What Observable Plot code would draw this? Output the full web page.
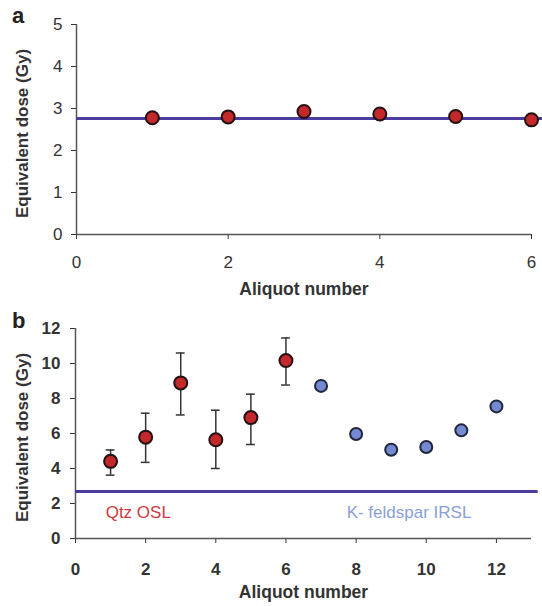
<!DOCTYPE html>
<html>
<head>
<meta charset="utf-8">
<script src="https://cdn.jsdelivr.net/npm/d3@7"></script>
<script src="https://cdn.jsdelivr.net/npm/@observablehq/plot@0.6"></script>
<style>
  html, body { margin: 0; padding: 0; background: #fff; }
  body { width: 542px; font-family: "Liberation Sans", Arial, sans-serif; }
  .panel { position: relative; width: 542px; }
  .letter { position: absolute; z-index: 2; font-weight: bold; font-size: 22px; color: #222; line-height: 1; }
  svg { display: block; }
</style>
</head>
<body>
<div id="pa" class="panel" style="height:300px"><span class="letter" style="left:12px;top:5px">a</span></div>
<div id="pb" class="panel" style="height:306px"><span class="letter" style="left:12px;top:10px">b</span></div>
<script>
// Panel a: single-grain quartz OSL aliquots
const aliquotA = [1, 2, 3, 4, 5, 6];
const doseA = [2.78, 2.80, 2.93, 2.87, 2.81, 2.73];
const refDoseA = 2.76;
const xTicksA = [0, 2, 4, 6];
const yTicksA = [0, 1, 2, 3, 4, 5];

// Panel b: quartz OSL (with error bars) and K-feldspar IRSL
const qtzAliquot = [1, 2, 3, 4, 5, 6];
const qtzDose = [4.41, 5.79, 8.89, 5.64, 6.91, 10.17];
const qtzLow = [3.62, 4.35, 7.06, 4.00, 5.37, 8.77];
const qtzHigh = [5.06, 7.16, 10.60, 7.33, 8.25, 11.46];
const fsAliquot = [7, 8, 9, 10, 11, 12];
const fsDose = [8.72, 5.97, 5.07, 5.23, 6.18, 7.55];
const refDoseB = 2.69;
const xTicksB = [0, 2, 4, 6, 8, 10, 12];
const yTicksB = [0, 2, 4, 6, 8, 10, 12];

const seriesLabels = ["Qtz OSL", "K- feldspar IRSL"];
const labelX = [0.86, 7.73];
const labelY = [1.5, 1.5];

const xTitle = "Aliquot number";
const yTitle = "Equivalent dose (Gy)";

const RED = "#c3282b";
const BLUE = "#7389d2";
const LINE = "#4d3c9f";
const AXIS = "#555";
const fmt = d => String(d);

const ptsA = aliquotA.map((x, i) => ({x, y: doseA[i]}));
const qtz = qtzAliquot.map((x, i) => ({x, y: qtzDose[i], lo: qtzLow[i], hi: qtzHigh[i]}));
const fs = fsAliquot.map((x, i) => ({x, y: fsDose[i]}));
const labels = seriesLabels.map((t, i) => ({t, x: labelX[i], y: labelY[i], c: i === 0 ? "#cf3a3e" : "#8a9fd8"}));

const plotA = Plot.plot({
  width: 542, height: 300,
  marginLeft: 76, marginRight: 11, marginTop: 24, marginBottom: 66,
  style: {fontFamily: "'Liberation Sans', Arial, sans-serif", fontSize: "17px", color: "#333", background: "white"},
  x: {domain: [0, 6], ticks: xTicksA, tickFormat: fmt, tickSize: 5, tickPadding: 16, label: null},
  y: {domain: [0, 5], ticks: yTicksA, tickFormat: fmt, tickSize: 5, tickPadding: 9, label: null},
  marks: [
    Plot.ruleX([0], {y1: 0, y2: 5, stroke: AXIS, strokeWidth: 1.5}),
    Plot.ruleY([0], {x1: 0, x2: 6, stroke: AXIS, strokeWidth: 1.5}),
    Plot.ruleY([refDoseA], {x1: 0, x2: 6.2, stroke: LINE, strokeWidth: 3}),
    Plot.dot(ptsA, {x: "x", y: "y", r: 6.5, fill: RED, stroke: "#241010", strokeWidth: 2}),
    Plot.text([yTitle], {frameAnchor: "left", textAnchor: "middle", dx: -54, dy: 4, rotate: -90, fontWeight: "bold", fontSize: 17, fill: "#333"}),
    Plot.text([xTitle], {frameAnchor: "bottom", dy: 60, fontWeight: "bold", fontSize: 17.5, fill: "#333"})
  ]
});
document.getElementById("pa").appendChild(plotA);

const plotB = Plot.plot({
  width: 542, height: 306,
  marginLeft: 75, marginRight: 11, marginTop: 28, marginBottom: 68,
  style: {fontFamily: "'Liberation Sans', Arial, sans-serif", fontSize: "17px", fontWeight: "bold", color: "#333", background: "white"},
  x: {domain: [0, 13], ticks: xTicksB, tickFormat: fmt, tickSize: 5, tickPadding: 19, label: null},
  y: {domain: [0, 12], ticks: yTicksB, tickFormat: fmt, tickSize: 5, tickPadding: 10, label: null},
  marks: [
    Plot.ruleX([0], {y1: 0, y2: 12, stroke: AXIS, strokeWidth: 1.5}),
    Plot.ruleY([0], {x1: 0, x2: 13, stroke: AXIS, strokeWidth: 1.5}),
    Plot.ruleY([refDoseB], {x1: 0, x2: 13.19, stroke: LINE, strokeWidth: 3}),
    Plot.ruleX(qtz, {x: "x", y1: "lo", y2: "hi", stroke: "#333", strokeWidth: 1.5}),
    Plot.ruleY(qtz, {y: "hi", x1: d => d.x - 0.125, x2: d => d.x + 0.125, stroke: "#333", strokeWidth: 1.5}),
    Plot.ruleY(qtz, {y: "lo", x1: d => d.x - 0.125, x2: d => d.x + 0.125, stroke: "#333", strokeWidth: 1.5}),
    Plot.dot(qtz, {x: "x", y: "y", r: 6.5, fill: RED, stroke: "#241010", strokeWidth: 2}),
    Plot.dot(fs, {x: "x", y: "y", r: 6, fill: BLUE, stroke: "#22263a", strokeWidth: 2}),
    Plot.text(labels, {x: "x", y: "y", text: "t", fill: "c", textAnchor: "start", fontSize: 17, fontWeight: "normal"}),
    Plot.text([yTitle], {frameAnchor: "left", textAnchor: "middle", dx: -53, dy: 4, rotate: -90, fontWeight: "bold", fontSize: 17, fill: "#333"}),
    Plot.text([xTitle], {frameAnchor: "bottom", dy: 59, fontWeight: "bold", fontSize: 17.5, fill: "#333"})
  ]
});
document.getElementById("pb").appendChild(plotB);
</script>
</body>
</html>
